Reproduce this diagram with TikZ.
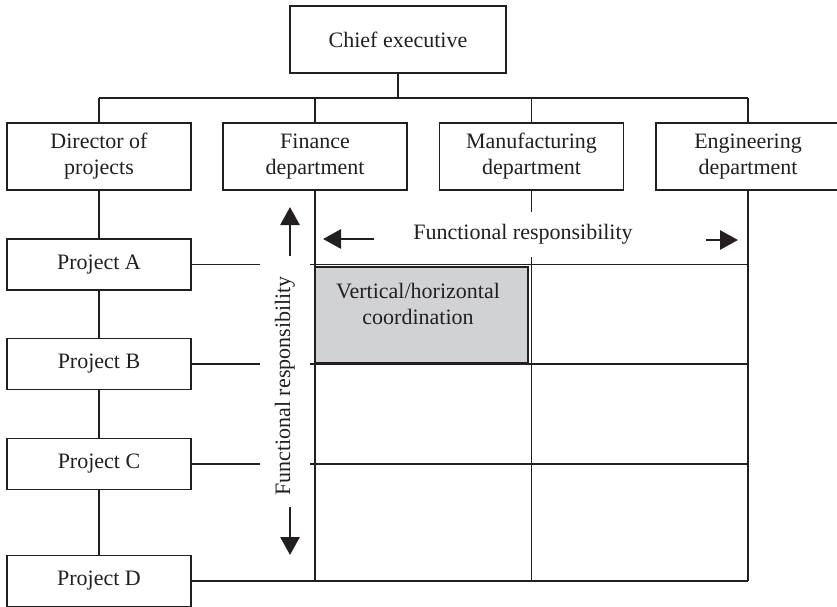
\documentclass[tikz,border=0pt]{standalone}
\usepackage{fontspec}
\setmainfont{Liberation Serif}
\usetikzlibrary{arrows.meta}
\definecolor{ink}{RGB}{35,31,32}
\definecolor{cellgray}{RGB}{209,210,212}
\begin{document}
\begin{tikzpicture}[x=1pt,y=-1pt,
  every node/.style={font=\fontsize{22}{26}\selectfont, text=ink},
  box/.style={draw=ink, line width=1.5pt, align=center, inner sep=0pt, fill=white},
  orgbox/.style={box, minimum width=184pt, minimum height=67pt},
  projbox/.style={box, minimum width=184pt, minimum height=51pt},
  link/.style={draw=ink, line width=1.5pt},
  flowlabel/.style={fill=white, inner xsep=4pt, inner ysep=12.5pt,
    text height=15pt, text depth=5pt},
  bigarrow/.style={draw=ink, line width=2.8pt,
    -{Triangle[length=18pt,width=19pt]}}]
\useasboundingbox (0,0) rectangle (837,607);

% Top of the hierarchy
\node[box, minimum width=216pt, minimum height=67pt] (chief) at (398,39.5) {Chief executive};

% Second level
\node[orgbox] (dir) at (99,156.5)   {Director of\\projects};
\node[orgbox] (fin) at (315,156.5)  {Finance\\department};
\node[orgbox] (man) at (531.5,156.5){Manufacturing\\department};
\node[orgbox] (eng) at (748,156.5)  {Engineering\\department};

% Projects
\node[projbox] (pa) at (99,264.5) {Project A};
\node[projbox] (pb) at (99,364)   {Project B};
\node[projbox] (pc) at (99,464)   {Project C};
\node[projbox] (pd) at (99,581)   {Project D};

% Reporting lines
\coordinate (bus) at (0,98);
\draw[link] (chief.south) -- (chief.south |- bus);
\draw[link] (dir.north |- bus) -- (eng.north |- bus);
\foreach \n in {dir,fin,man,eng}
  \draw[link] (\n.north) -- (\n.north |- bus);
\draw[link] (dir.south) -- (pa.north) (pa.south) -- (pb.north)
            (pb.south) -- (pc.north) (pc.south) -- (pd.north);

% Matrix grid
\foreach \n in {fin,man,eng}
  \draw[link] (\n.south) -- (\n.south |- pd);
\foreach \p in {pa,pb,pc,pd}
  \draw[link] (\p.east) -- (\p -| eng);

% Shaded coordination cell
\node[draw=ink, line width=1.5pt, fill=cellgray, minimum width=213pt,
      minimum height=96pt, inner sep=0pt] (cell) at (421.5,315) {};
\node[align=center, inner sep=0pt] (celltext) at (418,304)
  {Vertical/horizontal\\coordination};

% Responsibility labels
\node[flowlabel] (hlab) at (523,234.5) {Functional responsibility};
\node[flowlabel, inner xsep=16pt, inner ysep=15pt, rotate=90] (vlab) at (285,386)
  {Functional responsibility};

% Direction arrows
\coordinate (upS) at (290,256);  \coordinate (upE) at (290,207);
\coordinate (dnS) at (290,507);  \coordinate (dnE) at (290,555);
\coordinate (ltS) at (374,239);  \coordinate (ltE) at (323,239);
\coordinate (rtS) at (706,240);  \coordinate (rtE) at (738,240);
\draw[bigarrow] (upS) -- (upE);
\draw[bigarrow] (dnS) -- (dnE);
\draw[bigarrow] (ltS) -- (ltE);
\draw[bigarrow] (rtS) -- (rtE);
\end{tikzpicture}
\end{document}
